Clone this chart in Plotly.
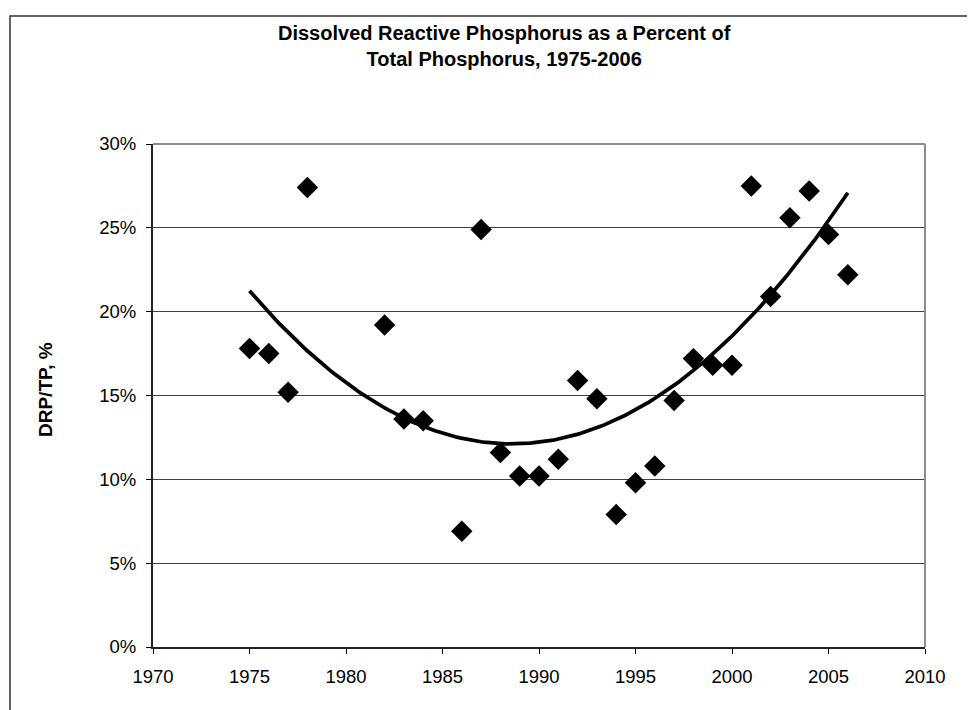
import numpy as np
import plotly.graph_objects as go

# ---- data ----
years = [1975, 1976, 1977, 1978, 1982, 1983, 1984, 1986, 1987, 1988, 1989, 1990, 1991, 1992,
         1993, 1994, 1995, 1996, 1997, 1998, 1999, 2000, 2001, 2002, 2003, 2004, 2005, 2006]
drp_pct = [17.8, 17.5, 15.2, 27.4, 19.2, 13.6, 13.5, 6.9, 24.9, 11.6, 10.2, 10.2, 11.2, 15.9,
           14.8, 7.9, 9.8, 10.8, 14.7, 17.2, 16.8, 16.8, 27.5, 20.9, 25.6, 27.2, 24.6, 22.2]
# points on the polynomial trendline
trend_years = [1975, 1975.8, 1980.9, 1985.4, 1988.9, 1996.2, 2001.45, 2004.7, 2006]
trend_pct = [21.4, 20.0, 15.0, 12.7, 12.2, 15.0, 20.0, 25.0, 27.2]
x_ticks = [1970, 1975, 1980, 1985, 1990, 1995, 2000, 2005, 2010]
y_ticks = [0, 0.05, 0.10, 0.15, 0.20, 0.25, 0.30]
title_lines = ["Dissolved Reactive Phosphorus as a Percent of", "Total Phosphorus, 1975-2006"]
y_title = "DRP/TP, %"

drp = [v / 100 for v in drp_pct]

# smooth 2nd-order trendline through the read trendline points
coef = np.polyfit(trend_years, [v / 100 for v in trend_pct], 2)
tx = np.linspace(min(years), max(years), 200)
ty = np.polyval(coef, tx)

# ---- layout geometry (page pixels; page body has an 8px margin) ----
OFF = 8
W, H = 975 - OFF, 710 - OFF
L, R, T, B = 153 - OFF, 925 - OFF, 144 - OFF, 647 - OFF
def px(p):  # page x pixel -> paper
    return (p - OFF - L) / (R - L)
def py(p):  # page y pixel -> paper
    return (B - (p - OFF)) / (B - T)

FONT = "Arial, Liberation Sans, sans-serif"

fig = go.Figure()
fig.add_trace(go.Scatter(x=tx, y=ty, mode="lines",
                         line=dict(color="black", width=3.75), hoverinfo="skip",
                         showlegend=False))
fig.add_trace(go.Scatter(x=years, y=drp, mode="markers",
                         marker=dict(symbol="diamond", size=16.5, color="black",
                                     line=dict(width=0)),
                         showlegend=False))

fig.update_layout(
    width=W, height=H,
    margin=dict(l=L, r=W - R, t=T, b=H - B, pad=0),
    paper_bgcolor="white", plot_bgcolor="white",
    font=dict(family=FONT, size=18, color="black"),
    xaxis=dict(range=[1970, 2010], tickvals=x_ticks, ticks="outside", ticklen=5,
               tickcolor="black", tickwidth=1, showline=True, linecolor="#222222",
               linewidth=2, showgrid=False, zeroline=False, ticklabelstandoff=7,
               tickfont=dict(size=18.5, family=FONT)),
    yaxis=dict(range=[0, 0.30], tickvals=y_ticks, tickformat=".0%", ticks="outside",
               ticklen=5, tickcolor="black", tickwidth=1, showline=True,
               linecolor="#222222", linewidth=2, showgrid=True, gridcolor="#404040",
               gridwidth=1, zeroline=False, ticklabelstandoff=6,
               tickfont=dict(size=18.5, family=FONT)),
    shapes=[
        # top and right plot border (gray)
        dict(type="line", xref="paper", yref="paper", x0=0, x1=1, y0=1, y1=1,
             line=dict(color="#8c8c8c", width=2)),
        dict(type="line", xref="paper", yref="paper", x0=1, x1=1, y0=0, y1=1,
             line=dict(color="#8c8c8c", width=2)),
        # outer chart border
        dict(type="rect", xref="paper", yref="paper", x0=px(10), x1=px(1010),
             y0=py(740), y1=py(16), line=dict(color="#333333", width=1.5),
             fillcolor="rgba(0,0,0,0)"),
    ],
    annotations=[
        dict(text="<b>" + "<br>".join(title_lines) + "</b>", xref="paper", yref="paper",
             x=px(504), y=py(20), xanchor="center", yanchor="top", showarrow=False,
             font=dict(size=20, family=FONT, color="black"), align="center"),
        dict(text="<b>" + y_title + "</b>", xref="paper", yref="paper",
             x=px(45), y=py(390), xanchor="center", yanchor="middle", showarrow=False,
             textangle=-90, font=dict(size=19, family=FONT, color="black")),
    ],
)

fig.write_html("out.html")
